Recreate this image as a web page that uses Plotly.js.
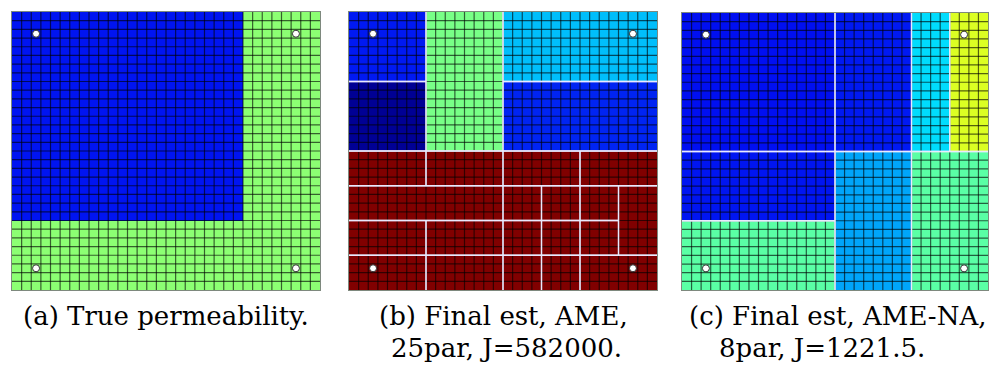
<!DOCTYPE html>
<html>
<head>
<meta charset="utf-8">
<script src="https://cdn.plot.ly/plotly-3.0.1.min.js"></script>
<style>
  html, body { margin: 0; padding: 0; background: #ffffff; }
  #chart { width: 1002px; height: 366px; }
</style>
</head>
<body>
<div id="chart"></div>
<script>
// ---------------- DATA ----------------
// Grid size (cells)
const gridCols = 32;
const gridRows = 32;

// Blocks: [colStart, colEnd, rowStart, rowEnd, level] (cell indices, end exclusive, rows from top)
// level = normalized permeability value on a jet colour scale (0..1)
const blocksTrue = [
  [0, 24, 0, 24, 0.145],
  [24, 32, 0, 32, 0.512],
  [0, 24, 24, 32, 0.512]
];

const blocksAME = [
  [0, 8, 0, 8, 0.150],
  [0, 8, 8, 16, 0.022],
  [8, 16, 0, 16, 0.493],
  [16, 32, 0, 8, 0.311],
  [16, 32, 8, 16, 0.160],
  // bottom half, band rows 16-19
  [0, 8, 16, 20, 1.0],
  [8, 16, 16, 20, 1.0],
  [16, 24, 16, 20, 1.0],
  [24, 32, 16, 20, 1.0],
  // band rows 20-23
  [0, 16, 20, 24, 1.0],
  [16, 20, 20, 24, 1.0],
  [20, 24, 20, 24, 1.0],
  [24, 28, 20, 24, 1.0],
  [28, 32, 20, 28, 1.0],
  // band rows 24-27
  [0, 8, 24, 28, 1.0],
  [8, 16, 24, 28, 1.0],
  [16, 20, 24, 28, 1.0],
  [20, 24, 24, 28, 1.0],
  [24, 28, 24, 28, 1.0],
  // band rows 28-31
  [0, 8, 28, 32, 1.0],
  [8, 16, 28, 32, 1.0],
  [16, 20, 28, 32, 1.0],
  [20, 24, 28, 32, 1.0],
  [24, 32, 28, 32, 1.0]
];

const blocksAMENA = [
  [0, 16, 0, 16, 0.140],
  [16, 24, 0, 16, 0.150],
  [24, 28, 0, 16, 0.341],
  [28, 32, 0, 16, 0.591],
  [0, 16, 16, 24, 0.146],
  [0, 16, 24, 32, 0.463],
  [16, 24, 16, 32, 0.287],
  [24, 32, 16, 32, 0.463]
];

// Well locations (cell indices)
const wellCols = [2, 29, 2, 29];
const wellRows = [2, 2, 29, 29];

// Captions
const captionLine1 = ["(a) True permeability.", "(b) Final est, AME,", "(c) Final est, AME-NA,"];
const captionLine2 = ["", "25par, J=582000.", "8par, J=1221.5."];

// ---------------- STYLE ----------------
const jet = [
  [0.0, 'rgb(0,0,128)'],
  [0.125, 'rgb(0,0,240)'],
  [0.375, 'rgb(0,255,255)'],
  [0.625, 'rgb(255,255,0)'],
  [0.875, 'rgb(255,0,0)'],
  [1.0, 'rgb(128,0,0)']
];

function buildZ(blocks) {
  const z = [];
  for (let r = 0; r < gridRows; r++) z.push(new Array(gridCols).fill(null));
  blocks.forEach(b => {
    for (let r = b[2]; r < b[3]; r++)
      for (let c = b[0]; c < b[1]; c++) z[r][c] = b[4];
  });
  return z;
}

function boundaryLines(blocks) {
  const xs = [], ys = [];
  blocks.forEach(b => {
    const c0 = b[0] - 0.5, c1 = b[1] - 0.5, r0 = b[2] - 0.5, r1 = b[3] - 0.5;
    if (b[2] > 0) { xs.push(c0, c1, null); ys.push(r0, r0, null); }
    if (b[3] < gridRows) { xs.push(c0, c1, null); ys.push(r1, r1, null); }
    if (b[0] > 0) { xs.push(c0, c0, null); ys.push(r0, r1, null); }
    if (b[1] < gridCols) { xs.push(c1, c1, null); ys.push(r0, r1, null); }
  });
  return { xs, ys };
}

function gridLines() {
  const xs = [], ys = [];
  for (let c = 1; c < gridCols; c++) { xs.push(c - 0.5, c - 0.5, null); ys.push(-0.5, gridRows - 0.5, null); }
  for (let r = 1; r < gridRows; r++) { xs.push(-0.5, gridCols - 0.5, null); ys.push(r - 0.5, r - 0.5, null); }
  return { xs, ys };
}

const colsIdx = Array.from({ length: gridCols }, (_, i) => i);
const rowsIdx = Array.from({ length: gridRows }, (_, i) => i);

const panels = [
  { blocks: blocksTrue, xa: 'x', ya: 'y', lines: false },
  { blocks: blocksAME, xa: 'x2', ya: 'y2', lines: true },
  { blocks: blocksAMENA, xa: 'x3', ya: 'y3', lines: true }
];

const gl = gridLines();
const traces = [];
panels.forEach(p => {
  traces.push({
    type: 'heatmap',
    x: colsIdx, y: rowsIdx, z: buildZ(p.blocks),
    xaxis: p.xa, yaxis: p.ya,
    colorscale: jet, zmin: 0, zmax: 1,
    showscale: false,
    hoverinfo: 'skip'
  });
  traces.push({
    type: 'scatter', mode: 'lines',
    x: gl.xs, y: gl.ys, xaxis: p.xa, yaxis: p.ya,
    line: { color: 'rgba(0,0,0,0.62)', width: 1.2 },
    hoverinfo: 'skip', showlegend: false, connectgaps: false
  });
  if (p.lines) {
    const bl = boundaryLines(p.blocks);
    traces.push({
      type: 'scatter', mode: 'lines',
      x: bl.xs, y: bl.ys, xaxis: p.xa, yaxis: p.ya,
      line: { color: 'rgba(235,235,255,0.9)', width: 1.3 },
      hoverinfo: 'skip', showlegend: false, connectgaps: false
    });
  }
  traces.push({
    type: 'scatter', mode: 'markers',
    x: wellCols, y: wellRows, xaxis: p.xa, yaxis: p.ya,
    marker: { color: '#ffffff', size: 7, line: { color: '#333333', width: 1 } },
    hoverinfo: 'skip', showlegend: false
  });
});

function xax(domain, anchor) {
  return {
    domain: domain, anchor: anchor, range: [-0.5, gridCols - 0.5],
    showgrid: false, zeroline: false, showticklabels: false, ticks: '',
    showline: true, mirror: true, linecolor: 'rgba(20,40,20,0.55)', linewidth: 1, fixedrange: true
  };
}
function yax(domain, anchor) {
  return {
    domain: domain, anchor: anchor, range: [gridRows - 0.5, -0.5],
    showgrid: false, zeroline: false, showticklabels: false, ticks: '',
    showline: true, mirror: true, linecolor: 'rgba(20,40,20,0.55)', linewidth: 1, fixedrange: true
  };
}

const W = 1002, H = 366;
const yDom = [1 - 290 / H, 1 - 12 / H];
const capFont = { family: 'DejaVu Serif', size: 26, color: '#000000' };
const cap1X = [165.5, 504, 837];
const cap2X = [165.5, 506, 822];
const annotations = [];
for (let i = 0; i < 3; i++) {
  annotations.push({
    xref: 'paper', yref: 'paper', x: cap1X[i] / W, y: 1 - 316 / H,
    xanchor: 'center', yanchor: 'middle', showarrow: false,
    text: captionLine1[i], font: capFont
  });
  if (captionLine2[i]) {
    annotations.push({
      xref: 'paper', yref: 'paper', x: cap2X[i] / W, y: 1 - 348 / H,
      xanchor: 'center', yanchor: 'middle', showarrow: false,
      text: captionLine2[i], font: capFont
    });
  }
}

const layout = {
  width: W, height: H,
  margin: { l: 0, r: 0, t: 0, b: 0 },
  font: { family: 'DejaVu Serif' },
  paper_bgcolor: '#ffffff',
  plot_bgcolor: '#ffffff',
  showlegend: false,
  xaxis: xax([12 / W, 320 / W], 'y'),
  yaxis: yax(yDom, 'x'),
  xaxis2: xax([349 / W, 657 / W], 'y2'),
  yaxis2: yax(yDom, 'x2'),
  xaxis3: xax([682 / W, 988 / W], 'y3'),
  yaxis3: yax([1 - 290 / H, 1 - 13 / H], 'x3'),
  annotations: annotations
};

Plotly.newPlot('chart', traces, layout, { staticPlot: true, displayModeBar: false });
</script>
</body>
</html>
